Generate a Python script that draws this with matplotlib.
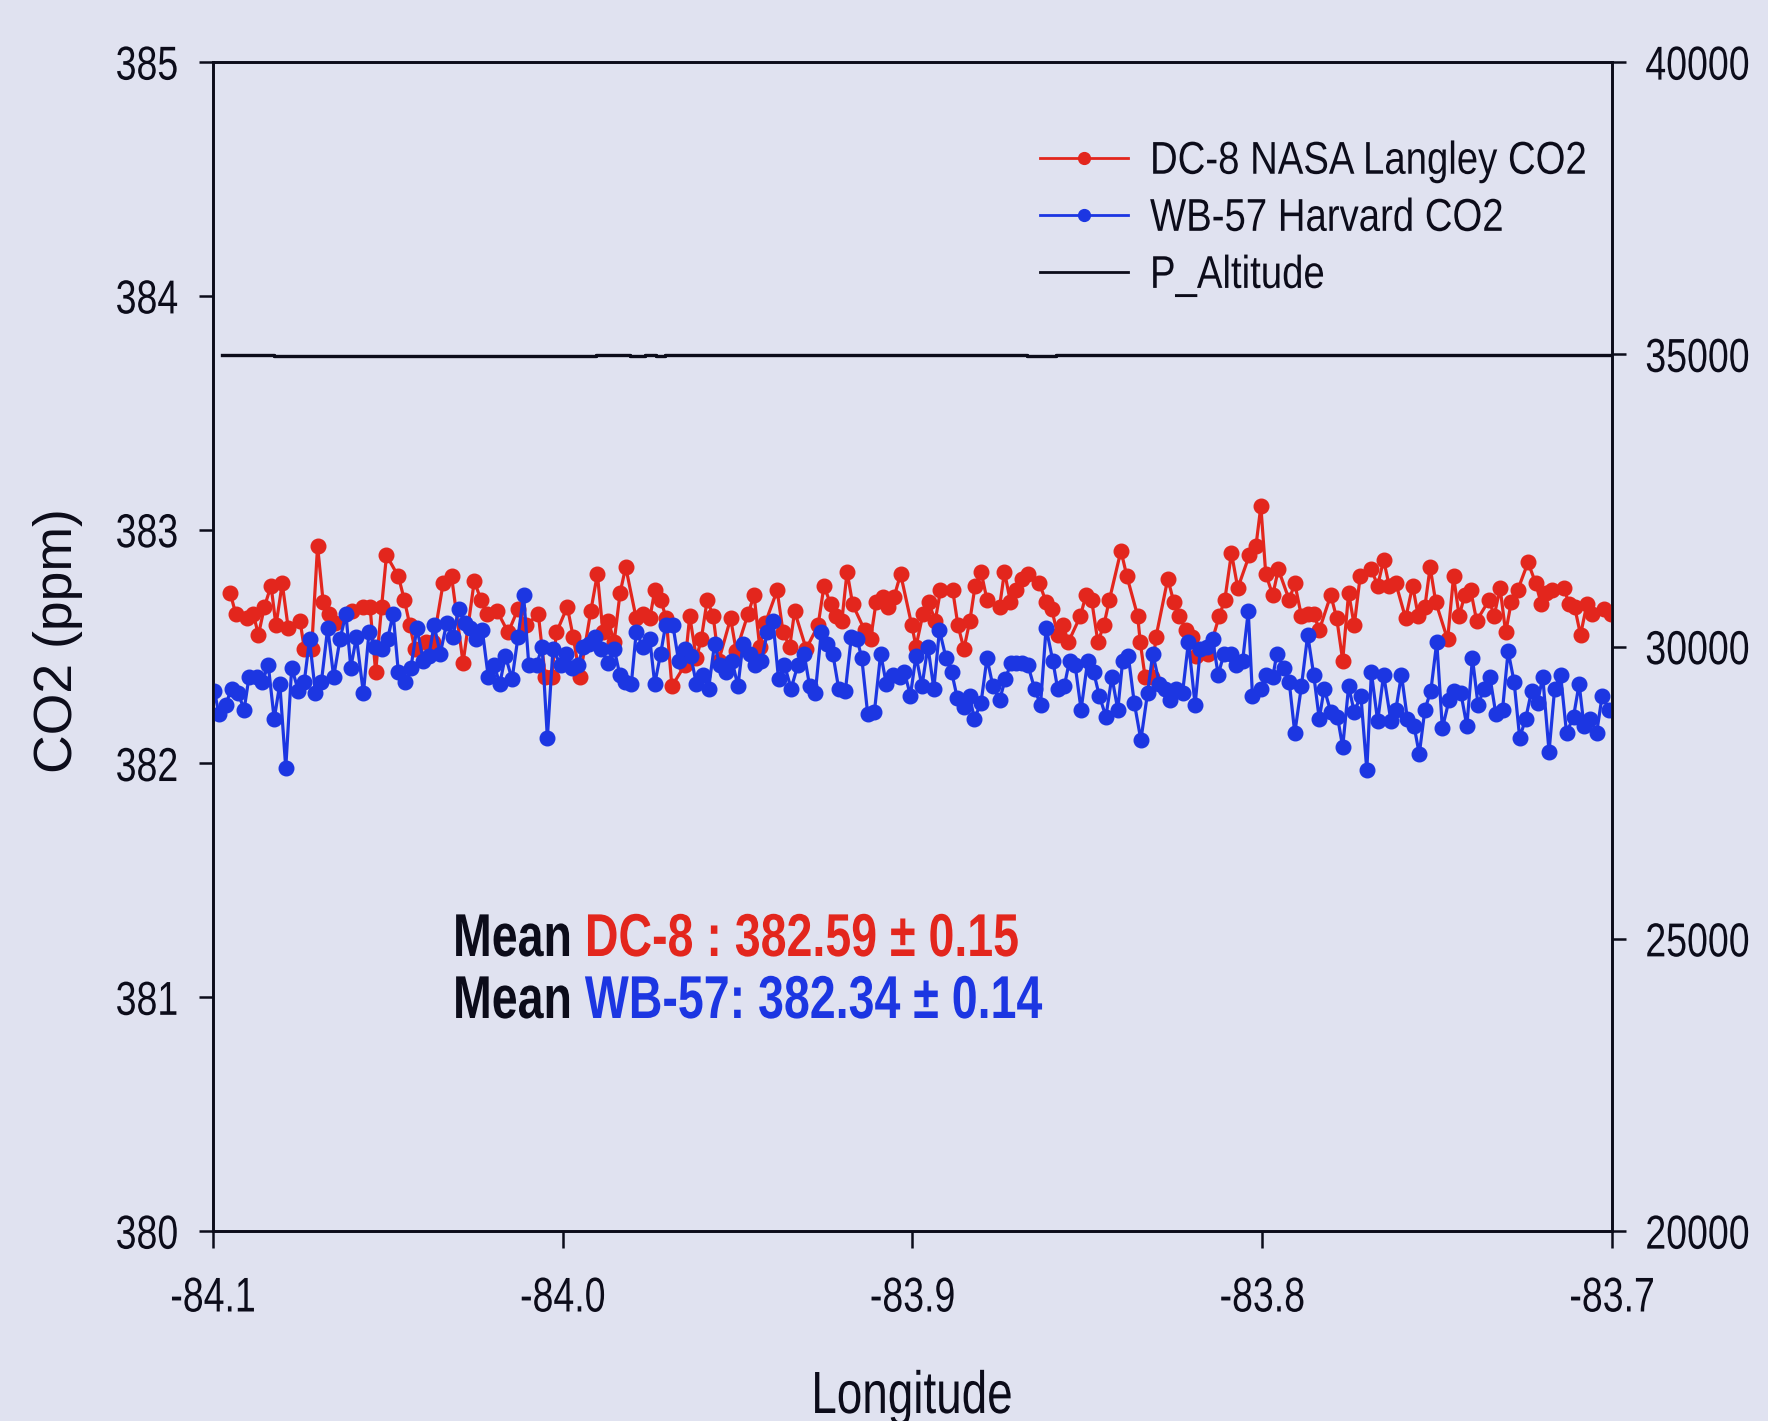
import matplotlib
matplotlib.use("Agg")
import matplotlib.pyplot as plt
from matplotlib.lines import Line2D
from matplotlib.patheffects import AbstractPathEffect
from matplotlib.ticker import FormatStrFormatter
from matplotlib.transforms import Affine2D

# ---------------------------------------------------------------- data
dc8_lon = [
    -84.0951, -84.0935, -84.0904, -84.0885, -84.0870, -84.0853, -84.0834, -84.0820, -84.0802, -84.0785,
    -84.0751, -84.0739, -84.0718, -84.0701, -84.0685, -84.0669, -84.0650, -84.0604, -84.0570, -84.0551,
    -84.0535, -84.0518, -84.0504, -84.0470, -84.0453, -84.0437, -84.0423, -84.0392, -84.0370, -84.0342,
    -84.0318, -84.0285, -84.0253, -84.0234, -84.0218, -84.0187, -84.0156, -84.0128, -84.0104, -84.0070,
    -84.0050, -84.0032,
    -84.0018, -83.9987, -83.9970, -83.9951, -83.9920, -83.9901, -83.9885, -83.9870, -83.9853, -83.9836,
    -83.9820, -83.9790, -83.9770, -83.9751, -83.9737, -83.9720, -83.9704, -83.9688, -83.9651, -83.9637,
    -83.9618, -83.9604, -83.9587, -83.9570, -83.9554, -83.9520, -83.9504, -83.9470, -83.9453, -83.9437,
    -83.9421, -83.9387, -83.9370, -83.9351, -83.9337, -83.9304, -83.9270, -83.9253, -83.9234, -83.9218,
    -83.9202, -83.9187, -83.9171, -83.9137, -83.9120, -83.9104, -83.9085, -83.9070, -83.9053, -83.9034,
    -83.9002, -83.8990, -83.8970, -83.8954, -83.8935, -83.8920, -83.8885, -83.8870, -83.8853, -83.8836,
    -83.8821, -83.8804, -83.8787, -83.8751, -83.8737, -83.8720, -83.8704, -83.8688, -83.8670, -83.8637,
    -83.8618, -83.8602, -83.8585, -83.8570, -83.8554, -83.8520, -83.8504, -83.8488, -83.8470, -83.8453,
    -83.8437, -83.8404, -83.8387, -83.8356, -83.8349, -83.8335, -83.8316, -83.8304, -83.8270, -83.8253,
    -83.8237, -83.8218, -83.8202, -83.8190, -83.8154, -83.8123, -83.8107, -83.8088, -83.8070, -83.8037,
    -83.8018, -83.8004, -83.7990, -83.7970, -83.7954, -83.7923, -83.7907, -83.7888, -83.7869, -83.7853,
    -83.7837, -83.7804, -83.7787, -83.7770, -83.7753, -83.7737, -83.7720, -83.7688, -83.7670, -83.7653,
    -83.7637, -83.7618, -83.7590, -83.7570, -83.7554, -83.7535, -83.7520, -83.7504, -83.7470, -83.7453,
    -83.7437, -83.7421, -83.7404, -83.7387, -83.7351, -83.7337, -83.7320, -83.7304, -83.7288, -83.7270,
    -83.7240, -83.7218, -83.7202, -83.7190, -83.7171, -83.7137, -83.7123, -83.7107, -83.7090, -83.7072,
    -83.7056, -83.7023, -83.7002,
]
dc8_co2 = [
    382.73, 382.64, 382.62, 382.64, 382.55, 382.67, 382.76, 382.59, 382.77, 382.58,
    382.61, 382.49, 382.49, 382.93, 382.69, 382.64, 382.60, 382.65, 382.67, 382.67,
    382.39, 382.67, 382.89, 382.80, 382.70, 382.59, 382.49, 382.52, 382.52, 382.77,
    382.80, 382.43, 382.78, 382.70, 382.64, 382.65, 382.56, 382.66, 382.59, 382.64,
    382.37, 382.37,
    382.56, 382.67, 382.54, 382.37, 382.65, 382.81, 382.56, 382.61, 382.52, 382.73,
    382.84, 382.62, 382.64, 382.62, 382.74, 382.70, 382.62, 382.33, 382.42, 382.63,
    382.45, 382.53, 382.70, 382.63, 382.44, 382.62, 382.48, 382.64, 382.72, 382.50,
    382.60, 382.74, 382.56, 382.50, 382.65, 382.49, 382.59, 382.76, 382.68, 382.63,
    382.61, 382.82, 382.68, 382.57, 382.53, 382.69, 382.71, 382.67, 382.71, 382.81,
    382.59, 382.50, 382.64, 382.69, 382.61, 382.74, 382.74, 382.59, 382.49, 382.61,
    382.76, 382.82, 382.70, 382.67, 382.82, 382.69, 382.74, 382.79, 382.81, 382.77,
    382.69, 382.66, 382.55, 382.59, 382.52, 382.63, 382.72, 382.70, 382.52, 382.59,
    382.70, 382.91, 382.80, 382.63, 382.52, 382.37, 382.37, 382.54, 382.79, 382.69,
    382.63, 382.57, 382.54, 382.46, 382.47, 382.63, 382.70, 382.90, 382.75, 382.89,
    382.93, 383.10, 382.81, 382.72, 382.83, 382.70, 382.77, 382.63, 382.64, 382.64,
    382.57, 382.72, 382.62, 382.44, 382.73, 382.59, 382.80, 382.83, 382.76, 382.87,
    382.76, 382.77, 382.62, 382.76, 382.63, 382.67, 382.84, 382.69, 382.53, 382.80,
    382.63, 382.72, 382.74, 382.61, 382.70, 382.63, 382.75, 382.56, 382.69, 382.74,
    382.86, 382.77, 382.68, 382.73, 382.74, 382.75, 382.68, 382.67, 382.55, 382.68,
    382.64, 382.66, 382.64,
]

wb57_lon = [
    -84.0996, -84.0983, -84.0964, -84.0947, -84.0928, -84.0911, -84.0897, -84.0875, -84.0859, -84.0842,
    -84.0825, -84.0809, -84.0792, -84.0775, -84.0756, -84.0739, -84.0724, -84.0707, -84.0690, -84.0672,
    -84.0655, -84.0637, -84.0620, -84.0606, -84.0590, -84.0570, -84.0554, -84.0537, -84.0518, -84.0501,
    -84.0485, -84.0470, -84.0451, -84.0434, -84.0417, -84.0399, -84.0383, -84.0368, -84.0350, -84.0332,
    -84.0315, -84.0297, -84.0280, -84.0264, -84.0247, -84.0230, -84.0213, -84.0196, -84.0180, -84.0164,
    -84.0145, -84.0128, -84.0112, -84.0097, -84.0075, -84.0059, -84.0044, -84.0028,
    -84.0006, -83.9990, -83.9973, -83.9956, -83.9942, -83.9926, -83.9907, -83.9890, -83.9872, -83.9853,
    -83.9837, -83.9823, -83.9804, -83.9790, -83.9770, -83.9751, -83.9737, -83.9720, -83.9706, -83.9685,
    -83.9669, -83.9651, -83.9634, -83.9618, -83.9599, -83.9583, -83.9566, -83.9551, -83.9532, -83.9516,
    -83.9499, -83.9485, -83.9466, -83.9451, -83.9432, -83.9415, -83.9399, -83.9383, -83.9366, -83.9347,
    -83.9328, -83.9310, -83.9294, -83.9278, -83.9261, -83.9244, -83.9228, -83.9211, -83.9192, -83.9175,
    -83.9158, -83.9145, -83.9128, -83.9109, -83.9091, -83.9075, -83.9056, -83.9037,
    -83.9023, -83.9006, -83.8990, -83.8973, -83.8956, -83.8939, -83.8923, -83.8904, -83.8888, -83.8872,
    -83.8853, -83.8837, -83.8823, -83.8804, -83.8787, -83.8770, -83.8751, -83.8735, -83.8718, -83.8704,
    -83.8688, -83.8670, -83.8651, -83.8634, -83.8618, -83.8599, -83.8585, -83.8566, -83.8551, -83.8535,
    -83.8518, -83.8499, -83.8482, -83.8466, -83.8447, -83.8430, -83.8413, -83.8399, -83.8383, -83.8366,
    -83.8347, -83.8328, -83.8313, -83.8294, -83.8278, -83.8263, -83.8247, -83.8228, -83.8211, -83.8192,
    -83.8177, -83.8158, -83.8142, -83.8126, -83.8109, -83.8090, -83.8075, -83.8056, -83.8040, -83.8028,
    -83.8004, -83.7990, -83.7970, -83.7958, -83.7939, -83.7923, -83.7907, -83.7888, -83.7870, -83.7853,
    -83.7837, -83.7823, -83.7804, -83.7785, -83.7770, -83.7753, -83.7737, -83.7718, -83.7701, -83.7688,
    -83.7670, -83.7653, -83.7632, -83.7618, -83.7602, -83.7585, -83.7566, -83.7551, -83.7535, -83.7518,
    -83.7501, -83.7485, -83.7466, -83.7451, -83.7432, -83.7415, -83.7399, -83.7383, -83.7366, -83.7349,
    -83.7332, -83.7313, -83.7297, -83.7280, -83.7264, -83.7247, -83.7230, -83.7213, -83.7198, -83.7180,
    -83.7164, -83.7147, -83.7130, -83.7110, -83.7094, -83.7080, -83.7063, -83.7044, -83.7028, -83.7009,
]
wb57_co2 = [
    382.31, 382.21, 382.25, 382.32, 382.30, 382.23, 382.37, 382.37, 382.35, 382.42,
    382.19, 382.34, 381.98, 382.41, 382.31, 382.35, 382.53, 382.30, 382.35, 382.58,
    382.37, 382.53, 382.64, 382.41, 382.54, 382.30, 382.56, 382.50, 382.49, 382.53,
    382.64, 382.39, 382.35, 382.41, 382.58, 382.44, 382.46, 382.59, 382.47, 382.60,
    382.54, 382.66, 382.60, 382.58, 382.53, 382.57, 382.37, 382.42, 382.34, 382.46,
    382.36, 382.54, 382.72, 382.42, 382.42, 382.50, 382.11, 382.49,
    382.42, 382.47, 382.41, 382.42, 382.50, 382.51, 382.54, 382.49, 382.43, 382.49,
    382.38, 382.35, 382.34, 382.56, 382.50, 382.53, 382.34, 382.47, 382.59, 382.59,
    382.44, 382.49, 382.46, 382.34, 382.38, 382.32, 382.51, 382.42, 382.39, 382.44,
    382.33, 382.51, 382.47, 382.42, 382.44, 382.56, 382.61, 382.36, 382.42, 382.32,
    382.42, 382.47, 382.33, 382.30, 382.56, 382.51, 382.47, 382.32, 382.31, 382.54,
    382.53, 382.45, 382.21, 382.22, 382.47, 382.34, 382.38, 382.37,
    382.39, 382.29, 382.46, 382.33, 382.50, 382.32, 382.57, 382.45, 382.39, 382.28,
    382.24, 382.29, 382.19, 382.26, 382.45, 382.33, 382.27, 382.36, 382.43, 382.43,
    382.43, 382.42, 382.32, 382.25, 382.58, 382.44, 382.32, 382.33, 382.44, 382.42,
    382.23, 382.44, 382.39, 382.29, 382.20, 382.37, 382.23, 382.44, 382.46, 382.26,
    382.10, 382.30, 382.47, 382.34, 382.32, 382.27, 382.32, 382.30, 382.52, 382.25,
    382.49, 382.50, 382.53, 382.38, 382.47, 382.47, 382.42, 382.44, 382.65, 382.29,
    382.32, 382.38, 382.37, 382.47, 382.41, 382.35, 382.13, 382.33, 382.55, 382.38,
    382.19, 382.32, 382.22, 382.20, 382.07, 382.33, 382.22, 382.29, 381.97, 382.39,
    382.18, 382.38, 382.18, 382.23, 382.38, 382.19, 382.16, 382.04, 382.23, 382.31,
    382.52, 382.15, 382.27, 382.31, 382.30, 382.16, 382.45, 382.25, 382.32, 382.37,
    382.21, 382.23, 382.48, 382.35, 382.11, 382.19, 382.31, 382.26, 382.37, 382.05,
    382.32, 382.38, 382.13, 382.20, 382.34, 382.16, 382.19, 382.13, 382.29, 382.23,
]

# pressure altitude (ft), piecewise constant along the leg
alt_lon = [-84.0974, -84.0826, -83.9906, -83.9809, -83.9766, -83.9733, -83.9709, -83.8674, -83.8589, -83.7003]
alt_ft = [34990, 34965, 34990, 34965, 34990, 34965, 34990, 34965, 34990, 34990]

x_ticks = [-84.1, -84.0, -83.9, -83.8, -83.7]
co2_ticks = [380, 381, 382, 383, 384, 385]
alt_ticks = [20000, 25000, 30000, 35000, 40000]

legend_labels = ["DC-8 NASA Langley CO2", "WB-57 Harvard CO2", "P_Altitude"]
mean_rows = [("Mean ", "DC-8 : 382.59 \u00b1 0.15"), ("Mean ", "WB-57: 382.34 \u00b1 0.14")]

# ---------------------------------------------------------------- style
BG = "#e0e2f0"
RED = "#e3261d"
BLUE = "#1c36e2"
INK = "#0c0c1a"
CAP = 71.6  # cap height of Liberation Sans in text-path units (em = 100)


class Stretch(AbstractPathEffect):
    """Draw glyph outlines scaled vertically about the line y = c (text-path units)."""

    def __init__(self, sy, c=0.0):
        super().__init__()
        self._t = Affine2D().translate(0, -c).scale(1.0, sy).translate(0, c)

    def draw_path(self, renderer, gc, tpath, affine, rgbFace=None):
        renderer.draw_path(gc, tpath, self._t + affine, rgbFace)


plt.rcParams["font.family"] = ["Liberation Sans", "DejaVu Sans"]
plt.rcParams["axes.unicode_minus"] = False

W, H = 1768, 1421
fig = plt.figure(figsize=(W / 100, H / 100), dpi=100, facecolor=BG)
ax = fig.add_axes([213 / W, 1 - 1231 / H, (1612 - 213) / W, (1231 - 62) / H])
ax.set_facecolor(BG)

ax.plot(dc8_lon, dc8_co2, "-o", color=RED, lw=2.3, ms=10.5, mec=RED, zorder=3)
ax.plot(wb57_lon, wb57_co2, "-o", color=BLUE, lw=2.3, ms=10.5, mec=BLUE, zorder=4)

ax.set_xlim(-84.1, -83.7)
ax.set_ylim(380, 385)
ax.set_xticks(x_ticks)
ax.set_yticks(co2_ticks)
ax.xaxis.set_major_formatter(FormatStrFormatter("%.1f"))

for s in ax.spines.values():
    s.set_linewidth(1.9)
    s.set_color(INK)

tick_fs = 27
ax.tick_params(axis="x", direction="out", length=12, width=1.8, pad=20, labelsize=tick_fs, colors=INK)
ax.tick_params(axis="y", direction="out", length=10, width=1.8, pad=15, labelsize=tick_fs, colors=INK)

ax2 = ax.twinx()
ax2.plot(alt_lon, alt_ft, color=INK, lw=2.4, drawstyle="steps-post", zorder=2)
ax2.set_ylim(20000, 40000)
ax2.set_yticks(alt_ticks)
ax2.tick_params(axis="y", direction="out", length=10, width=1.8, pad=14, labelsize=tick_fs, colors=INK)
for s in ax2.spines.values():
    s.set_linewidth(1.9)
    s.set_color(INK)

# tall tick lettering
for tk in ax.xaxis.get_major_ticks():
    tk.label1.set_path_effects([Stretch(1.3, CAP)])
for tk in ax.yaxis.get_major_ticks():
    tk.label1.set_path_effects([Stretch(1.27, CAP / 2)])
for tk in ax2.yaxis.get_major_ticks():
    tk.label2.set_path_effects([Stretch(1.27, CAP / 2)])

# axis titles
fig.text(912 / W, 1 - 1413 / H, "Longitude", fontsize=33, color=INK, ha="center", va="baseline",
         path_effects=[Stretch(1.3, 0)])
fig.text(58 / W, 1 - 641 / H, "CO2 (ppm)", fontsize=38.5, color=INK, rotation=90,
         ha="center", va="center")

# legend
handles = [
    Line2D([], [], color=RED, lw=2.0, marker="o", ms=8.5, mec=RED),
    Line2D([], [], color=BLUE, lw=2.0, marker="o", ms=8.5, mec=BLUE),
    Line2D([], [], color=INK, lw=2.0),
]
leg_fs = 27.6
fs_px = leg_fs * 100 / 72
leg = ax.legend(handles, legend_labels, loc="upper left",
                bbox_to_anchor=(1040 / W, 1 - 143 / H), bbox_transform=fig.transFigure,
                frameon=False, fontsize=leg_fs, borderpad=0, borderaxespad=0,
                handlelength=88 / fs_px, handletextpad=22 / fs_px, labelspacing=0.55)
for t in leg.get_texts():
    t.set_color(INK)
    t.set_path_effects([Stretch(1.2, CAP / 2)])

# mean annotations
mean_fs = 33.5
for (lead, rest), base, col in zip(mean_rows, (956, 1018), (RED, BLUE)):
    t0 = fig.text(453 / W, 1 - base / H, lead, fontsize=mean_fs, fontweight="bold",
                  color=INK, ha="left", va="baseline", path_effects=[Stretch(1.3, 0)])
    ax.annotate(rest, xy=(1, 0), xycoords=t0, ha="left", va="bottom",
                fontsize=mean_fs, fontweight="bold", color=col, path_effects=[Stretch(1.3, 0)])

fig.savefig("out.png", dpi=100, facecolor=BG)
